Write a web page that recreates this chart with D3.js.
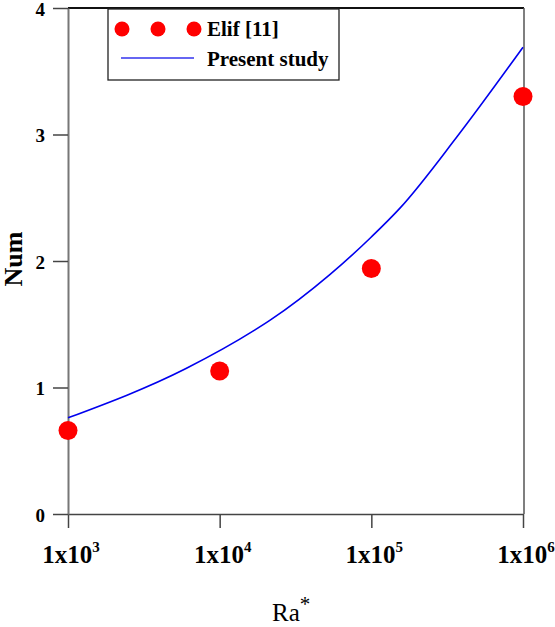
<!DOCTYPE html>
<html>
<head>
<meta charset="utf-8">
<script src="https://cdn.jsdelivr.net/npm/d3@7"></script>
<style>
  body { margin: 0; background: #fff; }
  svg { display: block; font-family: "Liberation Serif", "Times New Roman", serif; }
  svg text { font-family: "Liberation Serif", "Times New Roman", serif; }
</style>
</head>
<body>
<svg id="chart" width="555" height="627"></svg>
<script>
// data
var elifRa = [1e3, 1e4, 1e5, 1e6];
var elifNum = [0.66, 1.13, 1.94, 3.30];

var studyRa = [1e3, 6e3, 1.71e4, 2.14e4, 5.3e4, 1e5, 1.55e5, 3.66e5, 1e6];
var studyNum = [0.76, 1.15, 1.455, 1.53, 1.89, 2.19, 2.42, 2.98, 3.69];

var xMajor = [1e3, 1e4, 1e5, 1e6];
var xExp = [3, 4, 5, 6];
var yMajor = [0, 1, 2, 3, 4];
var yMinor = [0.5, 1.5, 2.5, 3.5];

var legendLabels = ["Elif [11]", "Present study"];

// layout
var LEFT = 68, RIGHT = 523, TOP = 8, BOTTOM = 514;

var svg = d3.select("#chart");

var x = d3.scaleLog().domain([1e3, 1e6]).range([LEFT, RIGHT]);
var y = d3.scaleLinear().domain([0, 4]).range([BOTTOM, TOP]);

// minor x ticks 2..9 per decade
var xMinor = [];
for (var d = 0; d < xMajor.length - 1; d++) {
    for (var k = 2; k <= 9; k++) xMinor.push(xMajor[d] * k);
}

// frame: top and right
svg.append("line")
    .attr("x1", LEFT).attr("x2", RIGHT + 1)
    .attr("y1", TOP).attr("y2", TOP)
    .attr("stroke", "#111").attr("stroke-width", 2);
svg.append("line")
    .attr("x1", RIGHT + 1).attr("x2", RIGHT + 1)
    .attr("y1", TOP).attr("y2", BOTTOM)
    .attr("stroke", "#555").attr("stroke-width", 1.5);

// x axis
var gx = svg.append("g").attr("transform", "translate(0," + BOTTOM + ")");
gx.call(d3.axisBottom(x).tickValues(xMinor).tickSize(7).tickFormat("").tickSizeOuter(0));
gx.call(d3.axisBottom(x).tickValues(xMajor).tickSize(14).tickFormat("").tickSizeOuter(0));
gx.attr("font-family", null);
gx.selectAll("path").attr("stroke", "#444").attr("stroke-width", 1.5);
gx.selectAll("line").attr("stroke", "#444").attr("stroke-width", 1.5);

gx.selectAll(".xlab")
    .data(xMajor)
    .enter()
    .append("text")
    .attr("class", "xlab")
    .attr("x", function(d){ return x(d) + 3; })
    .attr("y", 49)
    .attr("text-anchor", "middle")
    .attr("font-size", 25)
    .attr("font-weight", "bold")
    .attr("fill", "#000")
    .each(function(d, i){
        var t = d3.select(this);
        t.append("tspan").text("1x10");
        t.append("tspan").attr("dy", -11).attr("font-size", 15).text(xExp[i]);
    });

svg.append("text")
    .attr("x", 272).attr("y", 621)
    .attr("font-size", 25)
    .attr("fill", "#000")
    .each(function(){
        var t = d3.select(this);
        t.append("tspan").text("Ra");
        t.append("tspan").attr("dy", -10).attr("font-size", 21).text("*");
    });

// y axis
var gy = svg.append("g").attr("transform", "translate(" + LEFT + ",0)");
gy.call(d3.axisLeft(y).tickValues(yMinor).tickSize(8).tickFormat("").tickSizeOuter(0));
gy.call(d3.axisLeft(y).tickValues(yMajor).tickSize(15).tickFormat(d3.format("d")).tickSizeOuter(0));
gy.attr("font-family", null);
gy.selectAll("path").attr("stroke", "#777").attr("stroke-width", 2);
gy.selectAll("line").attr("stroke", "#444").attr("stroke-width", 1.5);
gy.selectAll("text")
    .attr("font-size", 19)
    .attr("font-weight", "bold")
    .attr("fill", "#000")
    .attr("x", -23)
    .attr("dy", "0.38em");

svg.append("text")
    .attr("transform", "translate(22,259) rotate(-90)")
    .attr("text-anchor", "middle")
    .attr("font-size", 26)
    .attr("font-weight", "bold")
    .attr("fill", "#000")
    .text("Num");

// present study line
var line = d3.line()
    .x(function(d){ return x(d[0]); })
    .y(function(d){ return y(d[1]); })
    .curve(d3.curveMonotoneX);

svg.append("path")
    .datum(d3.zip(studyRa, studyNum))
    .attr("d", line)
    .attr("fill", "none")
    .attr("stroke", "#0000ee")
    .attr("stroke-width", 1.6);

// Elif points
svg.selectAll(".pt")
    .data(d3.zip(elifRa, elifNum))
    .enter()
    .append("circle")
    .attr("class", "pt")
    .attr("cx", function(d){ return x(d[0]); })
    .attr("cy", function(d){ return y(d[1]); })
    .attr("r", 9.5)
    .attr("fill", "#ff0000");

// legend
var lg = svg.append("g");
lg.append("rect")
    .attr("x", 108).attr("y", 9)
    .attr("width", 231).attr("height", 71)
    .attr("fill", "#fff")
    .attr("stroke", "#222").attr("stroke-width", 1.3);

lg.selectAll(".ldot")
    .data([122, 158, 194])
    .enter()
    .append("circle")
    .attr("cx", function(d){ return d; })
    .attr("cy", 29)
    .attr("r", 7.5)
    .attr("fill", "#ff0000");

lg.append("line")
    .attr("x1", 121).attr("x2", 194)
    .attr("y1", 58).attr("y2", 58)
    .attr("stroke", "#3333ee").attr("stroke-width", 1.6);

lg.selectAll(".ltext")
    .data(legendLabels)
    .enter()
    .append("text")
    .attr("x", 207)
    .attr("y", function(d, i){ return 36 + i * 30; })
    .attr("font-size", 21)
    .attr("font-weight", "bold")
    .attr("fill", "#000")
    .text(function(d){ return d; });
</script>
</body>
</html>
